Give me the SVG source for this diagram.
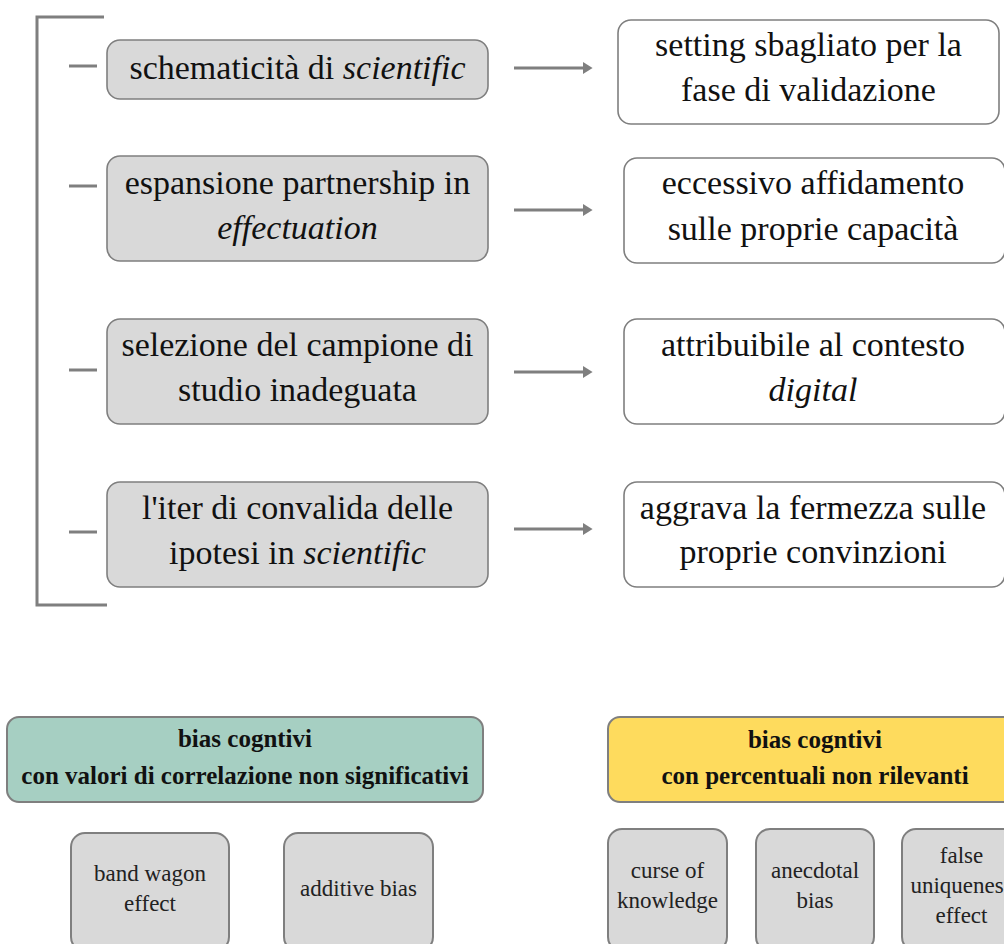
<svg xmlns="http://www.w3.org/2000/svg" width="1004" height="944" viewBox="0 0 1004 944">
  <defs>
    <marker id="arrowhead" markerWidth="4" markerHeight="4" refX="0" refY="2" orient="auto" markerUnits="strokeWidth">
      <path d="M0,0 L3.2,2 L0,4 Z" fill="#7f7f7f"/>
    </marker>
    <style>
      .cause { fill: #d9d9d9; stroke: #7f7f7f; stroke-width: 1.6; }
      .effect { fill: #ffffff; stroke: #7f7f7f; stroke-width: 1.6; }
      .bias { fill: #d9d9d9; stroke: #7f7f7f; stroke-width: 2; }
      .hdr { stroke: #7f7f7f; stroke-width: 2; }
      text { font-family: 'Liberation Serif', 'DejaVu Serif', serif; }
      .big { font-size: 34px; fill: #111; text-anchor: middle; }
      .hd { font-size: 25px; font-weight: bold; fill: #111; text-anchor: middle; }
      .sm { font-size: 23px; fill: #222; text-anchor: middle; }
      .line { stroke: #7f7f7f; stroke-width: 3; fill: none; }
      .arrow { stroke: #7f7f7f; stroke-width: 3; fill: none; marker-end: url(#arrowhead); }
      .it { font-style: italic; }
    </style>
  </defs>

  <!-- bracket and tick marks -->
  <g id="connectors">
    <path class="line" d="M104,17 H37 V605 H107"/>
    <line class="line" x1="69" y1="66" x2="97" y2="66"/>
    <line class="line" x1="69" y1="186" x2="97" y2="186"/>
    <line class="line" x1="69" y1="370" x2="97" y2="370"/>
    <line class="line" x1="69" y1="532" x2="97" y2="532"/>
    <line class="arrow" x1="514" y1="68" x2="583" y2="68"/>
    <line class="arrow" x1="514" y1="210" x2="583" y2="210"/>
    <line class="arrow" x1="514" y1="372" x2="583" y2="372"/>
    <line class="arrow" x1="514" y1="529" x2="583" y2="529"/>
  </g>

  <!-- causes -->
  <g id="cause1">
    <rect class="cause" x="107" y="40" width="381" height="59" rx="13"/>
    <text class="big" x="297.5" y="79">schematicità di <tspan class="it">scientific</tspan></text>
  </g>
  <g id="cause2">
    <rect class="cause" x="107" y="156" width="381" height="105" rx="13"/>
    <text class="big" x="297.5" y="194">espansione partnership in</text>
    <text class="big it" x="297.5" y="239">effectuation</text>
  </g>
  <g id="cause3">
    <rect class="cause" x="107" y="319" width="381" height="105" rx="13"/>
    <text class="big" x="297.5" y="356">selezione del campione di</text>
    <text class="big" x="297.5" y="401">studio inadeguata</text>
  </g>
  <g id="cause4">
    <rect class="cause" x="107" y="482" width="381" height="105" rx="13"/>
    <text class="big" x="297.5" y="519">l'iter di convalida delle</text>
    <text class="big" x="297.5" y="564">ipotesi in <tspan class="it">scientific</tspan></text>
  </g>

  <!-- effects -->
  <g id="effect1">
    <rect class="effect" x="618" y="20" width="381" height="104" rx="13"/>
    <text class="big" x="808.5" y="56">setting sbagliato per la</text>
    <text class="big" x="808.5" y="101">fase di validazione</text>
  </g>
  <g id="effect2">
    <rect class="effect" x="624" y="158" width="381" height="105" rx="13"/>
    <text class="big" x="813" y="194">eccessivo affidamento</text>
    <text class="big" x="813" y="240">sulle proprie capacità</text>
  </g>
  <g id="effect3">
    <rect class="effect" x="624" y="319" width="381" height="105" rx="13"/>
    <text class="big" x="813" y="356">attribuibile al contesto</text>
    <text class="big it" x="813" y="401">digital</text>
  </g>
  <g id="effect4">
    <rect class="effect" x="624" y="482" width="381" height="105" rx="13"/>
    <text class="big" x="813" y="519">aggrava la fermezza sulle</text>
    <text class="big" x="813" y="563">proprie convinzioni</text>
  </g>

  <!-- bias headers -->
  <g id="header-correlation">
    <rect class="hdr" x="7" y="717" width="476" height="85" rx="12" fill="#a6cfc2"/>
    <text class="hd" x="245" y="747">bias cogntivi</text>
    <text class="hd" x="245" y="784">con valori di correlazione non significativi</text>
  </g>
  <g id="header-percentuali">
    <rect class="hdr" x="608" y="717" width="414" height="85" rx="12" fill="#fedb5d"/>
    <text class="hd" x="815" y="748">bias cogntivi</text>
    <text class="hd" x="815" y="784">con percentuali non rilevanti</text>
  </g>

  <!-- bias items -->
  <g id="bias-bandwagon">
    <rect class="bias" x="71" y="833" width="158" height="118" rx="14"/>
    <text class="sm" x="150" y="881">band wagon</text>
    <text class="sm" x="150" y="911">effect</text>
  </g>
  <g id="bias-additive">
    <rect class="bias" x="284" y="833" width="149" height="118" rx="14"/>
    <text class="sm" x="358.5" y="896">additive bias</text>
  </g>
  <g id="bias-curse">
    <rect class="bias" x="608" y="829" width="119" height="122" rx="14"/>
    <text class="sm" x="667.5" y="878">curse of</text>
    <text class="sm" x="667.5" y="908">knowledge</text>
  </g>
  <g id="bias-anecdotal">
    <rect class="bias" x="756" y="829" width="118" height="122" rx="14"/>
    <text class="sm" x="815" y="878">anecdotal</text>
    <text class="sm" x="815" y="908">bias</text>
  </g>
  <g id="bias-false-uniqueness">
    <rect class="bias" x="902" y="829" width="119" height="122" rx="14"/>
    <text class="sm" x="961.5" y="863">false</text>
    <text class="sm" x="961.5" y="893">uniqueness</text>
    <text class="sm" x="961.5" y="923">effect</text>
  </g>
</svg>
